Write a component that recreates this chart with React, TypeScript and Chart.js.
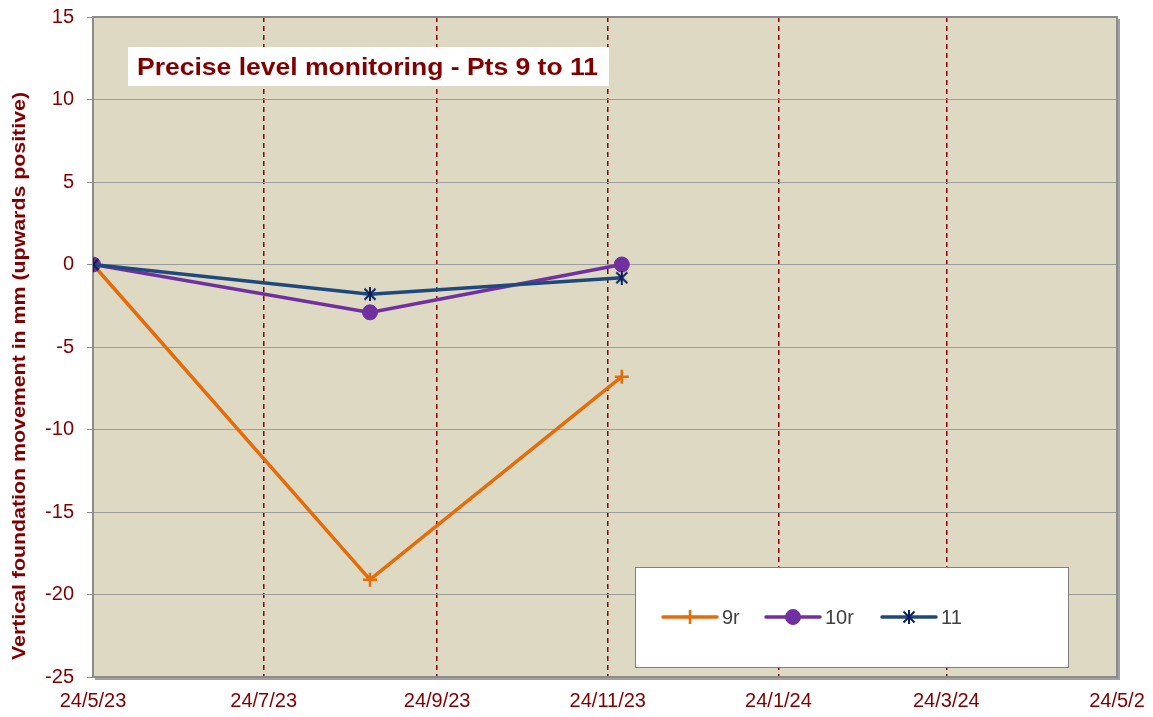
import React, { useEffect, useRef } from 'react';
import { Chart, registerables } from 'chart.js';
import { drawPoint } from 'chart.js/helpers';

Chart.register(...registerables);

// ---- data ----
const surveyDates = ['2023-05-24', '2023-08-31', '2023-11-29'];
const seriesNames = ['9r', '10r', '11'];
const values9r = [0, -19.1, -6.8];
const values10r = [0, -2.9, 0.0];
const values11 = [0, -1.8, -0.8];
const xTickDates = ['2023-05-24', '2023-07-24', '2023-09-24', '2023-11-24', '2024-01-24', '2024-03-24', '2024-05-24'];
const xTickLabels = ['24/5/23', '24/7/23', '24/9/23', '24/11/23', '24/1/24', '24/3/24', '24/5/2'];
const yTickValues = [15, 10, 5, 0, -5, -10, -15, -20, -25];
const chartTitle = 'Precise level monitoring - Pts 9 to 11';
const yAxisTitle = 'Vertical foundation movement in mm (upwards positive)';

const DAY = 86400000;
const origin = Date.parse(xTickDates[0] + 'T00:00:00Z');
const toDay = (d: string) => (Date.parse(d + 'T00:00:00Z') - origin) / DAY;

const DARK_RED = '#800000';
const FONT = "'Liberation Sans', Arial, sans-serif";

// six-spoke asterisk marker (X plus vertical bar)
function makeAsterisk(color: string, size: number, lw: number) {
  const c = document.createElement('canvas');
  c.width = size;
  c.height = size;
  const g = c.getContext('2d') as CanvasRenderingContext2D;
  const m = lw / 2 + 0.5;
  g.strokeStyle = color;
  g.lineWidth = lw;
  g.beginPath();
  g.moveTo(m, m); g.lineTo(size - m, size - m);
  g.moveTo(size - m, m); g.lineTo(m, size - m);
  g.moveTo(size / 2, 0); g.lineTo(size / 2, size);
  g.stroke();
  return c;
}

// draw text stretched horizontally to a target width
function fillStretched(ctx: CanvasRenderingContext2D, text: string, x: number, y: number, targetW: number) {
  const w = ctx.measureText(text).width;
  const s = targetW / w;
  ctx.save();
  ctx.translate(x, y);
  ctx.scale(s, 1);
  ctx.fillText(text, 0, 0);
  ctx.restore();
}

const decorPlugin = {
  id: 'decor',
  beforeDraw(chart: any) {
    const { ctx, chartArea: a } = chart;
    ctx.save();
    ctx.fillStyle = '#ffffff';
    ctx.fillRect(0, 0, chart.width, chart.height);
    ctx.fillStyle = '#DDD9C3';
    ctx.fillRect(a.left, a.top, a.right - a.left, a.bottom - a.top);
    ctx.restore();
  },
  beforeDatasetsDraw(chart: any) {
    const { ctx, chartArea: a } = chart;
    ctx.save();
    // frame + shadow
    ctx.strokeStyle = '#8C8C8C';
    ctx.lineWidth = 2;
    ctx.strokeRect(a.left, a.top, a.right - a.left, a.bottom - a.top);
    ctx.strokeStyle = '#A0A0A0';
    ctx.lineWidth = 2;
    ctx.beginPath();
    ctx.moveTo(a.right + 2, a.top + 2);
    ctx.lineTo(a.right + 2, a.bottom + 2);
    ctx.lineTo(a.left + 2, a.bottom + 2);
    ctx.stroke();
    // title box
    const titleW = 461;
    const bx = a.left + 35;
    const by = a.top + 30;
    ctx.fillStyle = '#ffffff';
    ctx.fillRect(bx, by, titleW + 20, 39);
    ctx.fillStyle = DARK_RED;
    ctx.font = `bold 23px ${FONT}`;
    ctx.textBaseline = 'alphabetic';
    ctx.textAlign = 'left';
    fillStretched(ctx, chartTitle, bx + 9, by + 28, titleW);
    // y axis title
    ctx.translate(25, 376);
    ctx.rotate(-Math.PI / 2);
    ctx.font = `bold 19px ${FONT}`;
    ctx.textAlign = 'left';
    fillStretched(ctx, yAxisTitle, -284, 0, 568);
    ctx.restore();
  },
  afterDatasetsDraw(chart: any) {
    const { ctx, chartArea: a } = chart;
    ctx.save();
    const lx = a.left + 542;
    const ly = a.top + 550;
    const lw = 433;
    const lh = 100;
    ctx.fillStyle = '#ffffff';
    ctx.fillRect(lx, ly, lw, lh);
    ctx.strokeStyle = '#808080';
    ctx.lineWidth = 1;
    ctx.strokeRect(lx + 0.5, ly + 0.5, lw, lh);
    const cy = ly + 50;
    const starts = [lx + 28, lx + 131, lx + 247];
    ctx.font = `20px ${FONT}`;
    ctx.textBaseline = 'middle';
    chart.data.datasets.forEach((ds: any, i: number) => {
      const x0 = starts[i];
      ctx.strokeStyle = ds.borderColor;
      ctx.lineWidth = 3.5;
      ctx.lineCap = 'round';
      ctx.beginPath();
      ctx.moveTo(x0, cy);
      ctx.lineTo(x0 + 54, cy);
      ctx.stroke();
      ctx.lineCap = 'butt';
      ctx.fillStyle = ds.pointBackgroundColor;
      ctx.strokeStyle = ds.pointBorderColor;
      ctx.lineWidth = ds.pointBorderWidth;
      drawPoint(ctx, { pointStyle: ds.pointStyle, radius: ds.pointRadius, borderWidth: ds.pointBorderWidth, rotation: 0 } as any, x0 + 27, cy);
      ctx.fillStyle = '#404040';
      ctx.textAlign = 'left';
      ctx.fillText(ds.label, x0 + 59, cy + 1);
    });
    ctx.restore();
  },
};

export default function App() {
  const ref = useRef<HTMLCanvasElement | null>(null);
  useEffect(() => {
    document.body.style.margin = '0';
    const xs = surveyDates.map(toDay);
    const pts = (vals: number[]) => vals.map((v, i) => ({ x: xs[i], y: v }));
    const asterisk = makeAsterisk('#0A1F5C', 14, 2);
    const chart = new Chart(ref.current as HTMLCanvasElement, {
      type: 'line',
      data: {
        datasets: [
          {
            label: seriesNames[0], data: pts(values9r), borderColor: '#E46C0A', backgroundColor: '#E46C0A',
            borderWidth: 3.5, pointStyle: 'cross', pointRadius: 7, pointBorderWidth: 2.5,
            pointBorderColor: '#E46C0A', pointBackgroundColor: '#E46C0A', order: 2,
          },
          {
            label: seriesNames[1], data: pts(values10r), borderColor: '#7030A0', backgroundColor: '#7030A0',
            borderWidth: 3.5, pointStyle: 'circle', pointRadius: 7.5, pointBorderWidth: 1,
            pointBorderColor: '#7030A0', pointBackgroundColor: '#7030A0', order: 1,
          },
          {
            label: seriesNames[2], data: pts(values11), borderColor: '#1F497D', backgroundColor: '#1F497D',
            borderWidth: 3.5, pointStyle: asterisk, pointRadius: 7, pointBorderWidth: 2,
            pointBorderColor: '#0A1F5C', pointBackgroundColor: '#0A1F5C', order: 0,
          },
        ] as any,
      },
      options: {
        responsive: false,
        animation: false,
        events: [],
        layout: { autoPadding: false, padding: { top: 17, right: 36, left: 0, bottom: 0 } },
        plugins: { legend: { display: false }, tooltip: { enabled: false }, title: { display: false } },
        scales: {
          x: {
            type: 'linear',
            min: toDay(xTickDates[0]),
            max: toDay(xTickDates[xTickDates.length - 1]),
            afterBuildTicks: (scale: any) => {
              scale.ticks = xTickDates.map((d) => ({ value: toDay(d) }));
            },
            afterFit: (scale: any) => {
              scale.height = 40;
              scale.paddingLeft = 0;
              scale.paddingRight = 0;
            },
            grid: { color: '#8B0000', lineWidth: 1.5, drawTicks: false },
            border: { display: false, dash: [5, 4] },
            ticks: {
              autoSkip: false, maxRotation: 0, padding: 12,
              color: DARK_RED, font: { family: FONT, size: 20 },
              callback: (_v: any, i: number) => xTickLabels[i],
            },
          },
          y: {
            type: 'linear',
            min: yTickValues[yTickValues.length - 1],
            max: yTickValues[0],
            afterBuildTicks: (scale: any) => {
              scale.ticks = yTickValues.map((v) => ({ value: v }));
            },
            afterFit: (scale: any) => {
              scale.width = 93;
              scale.paddingTop = 0;
              scale.paddingBottom = 0;
            },
            grid: { color: '#9C9C9C', lineWidth: 1, drawTicks: true, tickLength: 6, tickColor: '#8C8C8C' },
            border: { display: false },
            ticks: {
              autoSkip: false, padding: 13,
              color: DARK_RED, font: { family: FONT, size: 20 },
              callback: (v: any) => String(v),
            },
          },
        },
      } as any,
      plugins: [decorPlugin],
    });
    return () => chart.destroy();
  }, []);
  return <canvas ref={ref} width={1153} height={717} style={{ display: 'block' }} />;
}
